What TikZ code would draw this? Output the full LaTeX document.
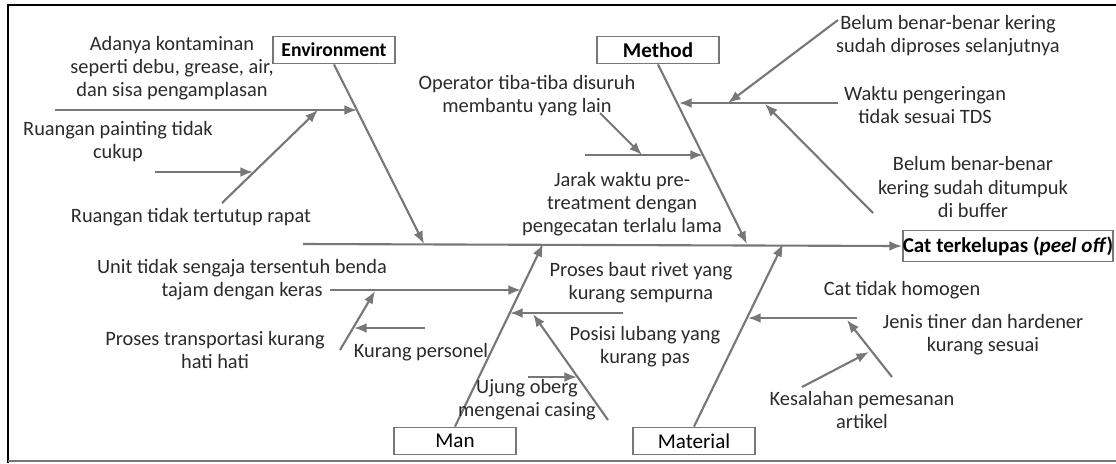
\documentclass[tikz,border=0pt]{standalone}
\usepackage{fontspec}
\setmainfont{Carlito}
\usetikzlibrary{arrows.meta}

\definecolor{bonegray}{HTML}{777777}
\definecolor{labelink}{HTML}{2B2B2B}

\tikzset{
  bone/.style={draw=bonegray, line width=1.5pt, -{Latex[length=9pt,width=7pt]}},
  catbox/.style={draw=bonegray, line width=1.2pt, minimum width=3.05cm, minimum height=0.68cm,
    inner sep=0pt, text=black, font=\fontsize{15}{17}\selectfont},
  cause/.style={align=center, text=labelink, inner sep=0pt, font=\fontsize{14.5}{16.4}\selectfont},
}

\begin{document}
\begin{tikzpicture}[x=0.025cm, y=-0.025cm]
  \useasboundingbox (0,0) rectangle (1116,463);
  \fill[white] (0,0) rectangle (1116,463);
  \draw[black, line width=2pt] (8,463) -- (8,5) -- (1116,5);
  \draw[bonegray, line width=1.2pt] (8,461) -- (1116,461);

  \node[catbox, font=\fontsize{14}{17}\selectfont\bfseries] (env) at (334,50) {Environment};
  \node[catbox, font=\fontsize{15}{17}\selectfont\bfseries] (method) at (658,50) {Method};
  \node[catbox] (man) at (455,441) {Man};
  \node[catbox] (material) at (694,441) {Material};
  \node[catbox, minimum width=5.2cm, minimum height=0.78cm, font=\fontsize{15}{17}\selectfont\bfseries]
    (effect) at (1008,246) {Cat terkelupas (\textit{peel off})};

  \coordinate (tail) at (303,244);
  \coordinate (envhead) at (424,244);
  \coordinate (methodhead) at (747,244);
  \coordinate (manhead) at (543,244);
  \coordinate (materialhead) at (783,244);

  \draw[bone] (tail) -- (effect.west);
  \draw[bone] (env.south) -- (envhead);
  \draw[bone] (method.south) -- (methodhead);
  \draw[bone] (man.north) -- (manhead);
  \draw[bone] (material.north) -- (materialhead);

  % Environment
  \node[cause] (env1) at (172,68) {Adanya kontaminan\\seperti debu, grease, air,\\dan sisa pengamplasan};
  \node[cause] (env2) at (118,142) {Ruangan painting tidak\\cukup};
  \node[cause] (env3) at (191,217) {Ruangan tidak tertutup rapat};
  \coordinate (e1a) at (55,110);
  \coordinate (e1b) at (357,110);
  \coordinate (e3a) at (222,203);
  \coordinate (e3b) at (318,110);
  \coordinate (e2a) at (155,172);
  \coordinate (e2b) at (253,172);
  \draw[bone] (e1a) -- (e1b);
  \draw[bone] (e3a) -- (e3b);
  \draw[bone] (e2a) -- (e2b);

  % Method
  \node[cause] (met1) at (527,96) {Operator tiba-tiba disuruh\\membantu yang lain};
  \node[cause] (met2) at (622,204) {Jarak waktu pre-\\treatment dengan\\pengecatan terlalu lama};
  \node[cause] (met3) at (948,36) {Belum benar-benar kering\\sudah diproses selanjutnya};
  \node[cause] (met4) at (925,105) {Waktu pengeringan\\tidak sesuai TDS};
  \node[cause] (met5) at (973,187) {Belum benar-benar\\kering sudah ditumpuk\\di buffer};
  \coordinate (m2a) at (585,155);
  \coordinate (m2b) at (703,155);
  \coordinate (m1a) at (600,113);
  \coordinate (m1b) at (642,155);
  \coordinate (m4a) at (838,103);
  \coordinate (m4b) at (679,103);
  \coordinate (m3a) at (838,20);
  \coordinate (m3b) at (728,103);
  \coordinate (m5a) at (873,213);
  \coordinate (m5b) at (765,104);
  \draw[bone] (m2a) -- (m2b);
  \draw[bone] (m1a) -- (m1b);
  \draw[bone] (m4a) -- (m4b);
  \draw[bone] (m3a) -- (m3b);
  \draw[bone] (m5a) -- (m5b);

  % Man
  \node[cause] (man1) at (242,280) {Unit tidak sengaja tersentuh benda\\tajam dengan keras};
  \node[cause] (man2) at (215,350) {Proses transportasi kurang\\hati hati};
  \node[cause] (man3) at (421,352) {Kurang personel};
  \node[cause] (man4) at (641,283) {Proses baut rivet yang\\kurang sempurna};
  \node[cause] (man5) at (645,347) {Posisi lubang yang\\kurang pas};
  \node[cause] (man6) at (527,400) {Ujung oberg\\mengenai casing};
  \coordinate (n1a) at (330,290);
  \coordinate (n1b) at (521,290);
  \coordinate (n2a) at (340,350);
  \coordinate (n2b) at (375,291);
  \coordinate (n3a) at (425,328);
  \coordinate (n3b) at (354,328);
  \coordinate (n4a) at (623,313);
  \coordinate (n4b) at (510,313);
  \coordinate (n5a) at (608,420);
  \coordinate (n5b) at (533,314);
  \coordinate (n6a) at (528,377);
  \coordinate (n6b) at (577,377);
  \draw[bone] (n1a) -- (n1b);
  \draw[bone] (n2a) -- (n2b);
  \draw[bone] (n3a) -- (n3b);
  \draw[bone] (n4a) -- (n4b);
  \draw[bone] (n5a) -- (n5b);
  \draw[bone] (n6a) -- (n6b);

  % Material
  \node[cause] (mat1) at (902,290) {Cat tidak homogen};
  \node[cause] (mat2) at (983,335) {Jenis tiner dan hardener\\kurang sesuai};
  \node[cause] (mat3) at (862,410) {Kesalahan pemesanan\\artikel};
  \coordinate (t1a) at (857,318);
  \coordinate (t1b) at (748,318);
  \coordinate (t2a) at (892,377);
  \coordinate (t2b) at (847,320);
  \coordinate (t3a) at (802,387);
  \coordinate (t3b) at (869,352);
  \draw[bone] (t1a) -- (t1b);
  \draw[bone] (t2a) -- (t2b);
  \draw[bone] (t3a) -- (t3b);
\end{tikzpicture}
\end{document}
